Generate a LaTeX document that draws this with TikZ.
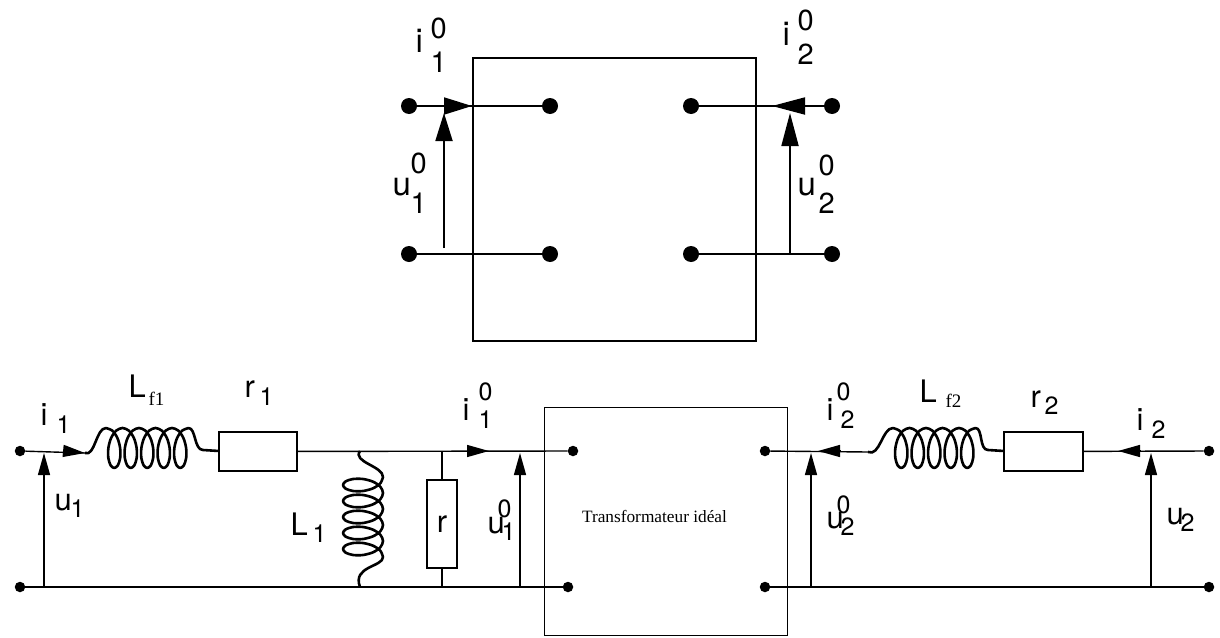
\documentclass[tikz,border=0pt]{standalone}
\usepackage{fontspec}
\setmainfont{TeX Gyre Heros}
\newfontfamily\serifface{Liberation Serif}
\usetikzlibrary{arrows.meta}
\newcommand\tok[4]{\makebox[0pt][l]{\kern#1pt\raisebox{#2pt}{\fontsize{#3}{#3}\selectfont #4}}}
\tikzset{
  x=1pt,y=-1pt,
  txt/.style={anchor=base west,inner sep=0pt,outer sep=0pt,text=black},
  dotA/.style={circle,fill=black,inner sep=0pt,minimum size=16pt},
  dotB/.style={circle,fill=black,inner sep=0pt,minimum size=10.5pt},
  boxA/.style={draw,line width=1.6pt,inner sep=0pt,anchor=north west},
  resi/.style={draw,line width=1.4pt,inner sep=0pt},
  wireA/.style={line width=1.8pt},
  wireB/.style={line width=1.4pt},
  arrA/.style={line width=1.8pt,-{Triangle[length=28pt,width=17pt]}},
  arrC/.style={line width=1.8pt,-{Triangle[length=33pt,width=17pt]}},
  arrB/.style={line width=1.4pt,-{Triangle[length=22pt,width=12pt]}},
  coil/.style={line width=2.6pt,line join=round}
}
\begin{document}
\begin{tikzpicture}
\useasboundingbox (0,0) rectangle (1220,637);
% upper two-port
\node[boxA,minimum width=283pt,minimum height=283pt] (tbox) at (472,57) {};
\node[dotA] (a1) at (409,106) {};
\node[dotA] (a2) at (550,106) {};
\node[dotA] (a3) at (409,254) {};
\node[dotA] (a4) at (550,254) {};
\node[dotA] (b1) at (691,106) {};
\node[dotA] (b2) at (832,106) {};
\node[dotA] (b3) at (691,254) {};
\node[dotA] (b4) at (832,254) {};
\draw[wireA] (a1) -- (a2);
\draw[wireA] (a3) -- (a4);
\draw[wireA] (b1) -- (b2);
\draw[wireA] (b3) -- (b4);
\coordinate (ia0) at (445,106); \coordinate (ia1) at (472,106);
\coordinate (ua0) at (444,248); \coordinate (ua1) at (444,113);
\coordinate (ib0) at (805,106); \coordinate (ib1) at (772,106);
\coordinate (ub0) at (790,254); \coordinate (ub1) at (790,113);
\draw[arrA] (ia0) -- (ia1);
\draw[arrA] (ua0) -- (ua1);
\draw[arrC] (ib0) -- (ib1);
\draw[arrC] (ub0) -- (ub1);
\node[txt] (l1) at (415,52) {\tok{0}{0}{33}{i}\tok{15}{14}{29}{0}\tok{15}{-20}{29}{1}};
\node[txt] (l2) at (392,195) {\tok{0}{0}{33}{u}\tok{18}{22}{29}{0}\tok{18}{-18}{29}{1}};
\node[txt] (l3) at (782,45) {\tok{0}{0}{33}{i}\tok{15}{15}{29}{0}\tok{15}{-20}{29}{2}};
\node[txt] (l4) at (797,195) {\tok{0}{0}{33}{u}\tok{21}{20}{29}{0}\tok{21}{-18}{29}{2}};
% lower circuit
\node[boxA,line width=1.3pt,minimum width=243pt,minimum height=228pt] (xbox) at (544,407) {};
\node[anchor=center,inner sep=0pt] (xlab) at (654.5,516) {\serifface\fontsize{17.3}{17.3}\selectfont Transformateur idéal};
\node[dotB] (d1) at (20,451) {};
\node[dotB] (d2) at (20,587) {};
\node[dotB] (d3) at (573,451) {};
\node[dotB] (d4) at (568,587) {};
\node[dotB] (d5) at (765,451) {};
\node[dotB] (d6) at (765,587) {};
\node[dotB] (d7) at (1209,451) {};
\node[dotB] (d8) at (1209,587) {};
\node[resi,minimum width=78pt,minimum height=39pt] (r1) at (258,451.5) {};
\node[resi,minimum width=79pt,minimum height=39pt] (r2) at (1043.5,451.5) {};
\node[resi,minimum width=30pt,minimum height=88pt] (r3) at (442,524) {\fontsize{31}{31}\selectfont r};
\coordinate (c1a) at (85,453); \coordinate (c1b) at (219,451);
\coordinate (c2a) at (868,452); \coordinate (c2b) at (1004,451);
\coordinate (c3a) at (360,451); \coordinate (c3b) at (360,587);
\coordinate (j1) at (442,451); \coordinate (j2) at (442,587);
\coordinate (j3) at (520,451); \coordinate (j4) at (520,587);
\coordinate (j5) at (44,451); \coordinate (j6) at (44,587);
\coordinate (j7) at (811,451); \coordinate (j8) at (811,587);
\coordinate (j9) at (1151,451); \coordinate (j10) at (1151,587);
\draw[wireB] (d1) -- (c1a);
\draw[wireB] (r1) -- (d3);
\draw[wireB] (d2) -- (d4);
\draw[wireB] (d5) -- (c2a);
\draw[wireB] (r2) -- (d7);
\draw[wireB] (d6) -- (d8);
\draw[wireB] (j1) -- (r3);
\draw[wireB] (r3) -- (j2);
\draw[arrB] (j6) -- (44,453);
\draw[arrB] (j4) -- (520,453);
\draw[arrB] (j8) -- (811,453);
\draw[arrB] (j10) -- (1151,453);
\draw[arrB] (64,451) -- (c1a);
\draw[arrB] (467,451) -- (489,451);
\draw[arrB] (840,451) -- (818,451);
\draw[arrB] (1141,451) -- (1118,451);
% coils
\draw[coil] (c1a) .. controls (95,457) and (96,428) .. (106,428)
  -- plot[smooth,domain=0:1800,samples=61] ({106+\x/360*16.5+10*sin(\x)},{448-20*cos(\x)})
  .. controls (196,428) and (194,450) .. (203,450) -- (c1b);
\draw[coil] (c2a) .. controls (880,457) and (882,428) .. (893,428)
  -- plot[smooth,domain=0:1800,samples=61] ({893+\x/360*16.5+10*sin(\x)},{448-20*cos(\x)})
  .. controls (983,428) and (979,450) .. (988,450) -- (c2b);
\draw[coil] (c3a) .. controls (352,462) and (383,466) .. (383,477)
  -- plot[smooth,domain=0:1800,samples=61] ({363+20*cos(\x)},{477+\x/360*16+10*sin(\x)})
  .. controls (383,567) and (352,566) .. (c3b);
% labels
\node[txt] (l5) at (40,425) {\tok{0}{0}{31}{i}\tok{16}{-8}{25}{1}};
\node[txt] (l6) at (128,397) {\tok{0}{0}{31}{L}\tok{20}{-8}{19}{\serifface f1}};
\node[txt] (l7) at (244,397) {\tok{0}{0}{31}{r}\tok{15}{-8}{25}{1}};
\node[txt] (l8) at (462,420) {\tok{0}{0}{31}{i}\tok{16}{20}{25}{0}\tok{16}{-8}{25}{1}};
\node[txt] (l9) at (290,535) {\tok{0}{0}{31}{L}\tok{22}{-7}{25}{1}};
\node[txt] (l10) at (487,533) {\tok{0}{0}{31}{u}\tok{10}{16}{25}{0}\tok{14}{-7}{25}{1}};
\node[txt] (l11) at (826,420) {\tok{0}{0}{31}{i}\tok{10}{20}{25}{0}\tok{14}{-8}{25}{2}};
\node[txt] (l12) at (919,402) {\tok{0}{0}{31}{L}\tok{26}{-5}{19}{\serifface f2}};
\node[txt] (l13) at (1030,407) {\tok{0}{0}{31}{r}\tok{14}{-7}{25}{2}};
\node[txt] (l14) at (1136,430) {\tok{0}{0}{31}{i}\tok{15}{-8}{25}{2}};
\node[txt] (l15) at (826,528) {\tok{0}{0}{31}{u}\tok{10}{15}{25}{0}\tok{14}{-7}{25}{2}};
\node[txt] (l16) at (1166,524) {\tok{0}{0}{31}{u}\tok{14}{-7}{25}{2}};
\node[txt] (l17) at (54,510) {\tok{0}{0}{31}{u}\tok{16}{-7}{25}{1}};
\end{tikzpicture}
\end{document}
